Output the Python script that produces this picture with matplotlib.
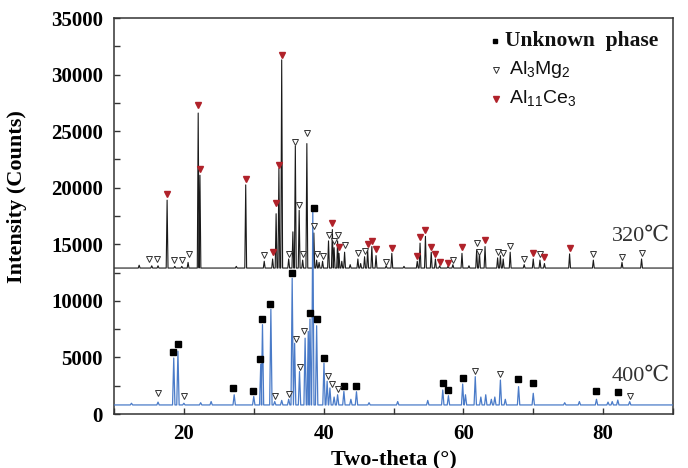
import numpy as np
import matplotlib
matplotlib.use("Agg")
import matplotlib.pyplot as plt
from matplotlib.ticker import MultipleLocator

# ---------------- data ----------------
base_320 = 12900
peaks320_tt = [13.6, 15.4, 16.3, 17.6, 18.7, 19.7, 20.6, 22.05, 22.3, 27.5, 28.85,
               31.5, 32.7, 33.2, 33.6, 34.0, 35.0, 35.6, 35.95, 36.5, 37.0, 37.6,
               38.6, 39.0, 39.35, 39.85, 40.7, 41.25, 41.5, 42.0, 42.2, 42.6, 43.0,
               43.8, 44.9, 45.3, 45.86, 46.3, 46.9, 47.5, 48.95, 49.76, 51.5, 53.4,
               53.8, 54.57, 55.4, 56.0, 56.6, 57.8, 58.5, 59.8, 60.8, 61.9, 62.3,
               63.1, 64.9, 65.3, 65.7, 66.7, 68.7, 70.0, 70.96, 71.6, 75.2, 78.6,
               82.7, 85.5]
peaks320_I = [13150, 13100, 13100, 18900, 13050, 13050, 13400, 26600, 21100, 13050, 20250,
              13500, 13700, 17700, 21700, 31300, 13700, 16100, 23700, 18000, 13600, 23900,
              16000, 13600, 13400, 13500, 15300, 16300, 14700, 15300, 14200, 13500, 14300,
              13200, 13700, 13300, 13900, 14500, 14800, 14000, 13100, 14200, 13050, 13500,
              15100, 15700, 14300, 13700, 13100, 13050, 13200, 14200, 13100, 14500, 14300,
              14800, 13800, 14000, 13700, 14300, 13200, 13700, 13600, 13300, 14150, 13600,
              13400, 13700]

base_400 = 800
peaks400_tt = [12.5, 16.3, 18.55, 19.15, 20.0, 22.4, 23.9, 27.2, 30.0, 31.0, 31.25,
               32.45, 33.0, 34.0, 35.0, 35.5, 35.85, 36.55, 37.35, 37.8, 38.05, 38.45,
               39.0, 40.05, 40.5, 40.9, 41.5, 42.0, 42.9, 43.9, 44.7, 46.5, 50.6, 54.9,
               57.05, 57.86, 59.9, 60.3, 61.7, 62.5, 63.2, 64.0, 64.5, 65.3, 66.0, 67.9,
               70.0, 74.5, 76.6, 79.05, 80.7, 81.3, 82.1, 83.8]
peaks400_I = [950, 1050, 4950, 5550, 950, 1000, 1100, 1700, 1550, 4400, 7900,
              9250, 1100, 1200, 1300, 12000, 6250, 3750, 6700, 7300, 8400, 17900,
              7800, 4500, 2900, 2300, 1500, 1700, 2000, 1300, 1970, 1000, 1100, 1200,
              2120, 1620, 2650, 1700, 3300, 1500, 1700, 1300, 1500, 3000, 1300, 2420,
              1830, 1000, 1100, 1300, 1050, 1100, 1230, 1090]

# phase markers (two-theta, intensity)
unknown_tt = [18.38, 19.19, 27.1, 29.9, 30.95, 31.14, 32.3, 35.5, 38.0, 38.6, 39.0,
              40.05, 42.86, 44.67, 57.05, 57.86, 59.9, 67.86, 70.0, 79.05, 82.1]
unknown_I = [5510, 6190, 2270, 2030, 4890, 8370, 9690, 12430, 8950, 18180, 8370,
             4980, 2470, 2470, 2710, 2120, 3210, 3090, 2770, 2030, 1920]

al3mg2_tt = [15.05, 16.2, 18.57, 19.7, 20.7, 31.5, 35.0, 35.95, 36.5, 37.05, 37.65,
             38.6, 39.0, 39.85, 40.75, 41.5, 42.05, 43.05, 44.9, 45.86, 48.95, 58.5,
             61.9, 62.3, 64.9, 65.7, 66.7, 68.7, 70.96, 78.6, 82.7, 85.5,
             16.3, 20.0, 33.0, 35.0, 36.1, 36.57, 37.14, 40.6, 41.2, 42.0, 61.7, 65.3, 83.8]
al3mg2_I = [13670, 13670, 13570, 13570, 14110, 14050, 14100, 24050, 18500, 14100, 24850,
            16600, 14150, 14000, 15850, 15250, 15820, 14900, 14200, 14400, 13470, 13650,
            15080, 14350, 14350, 14200, 14880, 13700, 14160, 14100, 13900, 14260,
            1830, 1590, 1590, 1770, 6630, 4130, 7370, 3390, 2650, 2210, 3830, 3500, 1590]

al11ce3_tt = [17.6, 22.05, 22.3, 28.85, 32.7, 33.2, 33.6, 34.0, 41.25, 42.2, 46.3,
              46.9, 47.5, 49.76, 53.4, 53.8, 54.57, 55.4, 56.0, 56.6, 57.8, 59.8,
              63.1, 70.0, 71.6, 75.2]
al11ce3_I = [19450, 27350, 21650, 20800, 14300, 18650, 22000, 31700, 16850, 14790, 15030,
             15320, 14560, 14700, 14000, 15620, 16260, 14790, 14140, 13470, 13380, 14790,
             15380, 14260, 13850, 14700]

x_range = [10, 90]
y_range = [0, 35000]
x_ticks = [20, 40, 60, 80]
y_ticks = [0, 5000, 10000, 15000, 20000, 25000, 30000, 35000]
labels_temp = ["320\u2103", "400\u2103"]
legend_labels = ["Unknown  phase", "Al$_\\mathregular{3}$Mg$_\\mathregular{2}$",
                 "Al$_\\mathregular{11}$Ce$_\\mathregular{3}$"]

# ---------------- drawing ----------------
HW = 0.13  # half width of a peak foot (degrees)


def trace(base, tts, Is, lo, hi, hw):
    xs, ys = [lo], [base]
    for t, h in sorted(zip(tts, Is)):
        xs += [t - hw, t, t + hw]
        ys += [base, h, base]
    xs.append(hi)
    ys.append(base)
    return xs, ys


serif = ["Liberation Serif", "DejaVu Serif"]
fig = plt.figure(figsize=(6.88, 4.68), dpi=100)
ax = fig.add_axes([114 / 688, 54 / 468, 559 / 688, 396 / 468])

x1, y1 = trace(base_320, peaks320_tt, peaks320_I, x_range[0], x_range[1], HW)
x2, y2 = trace(base_400, peaks400_tt, peaks400_I, x_range[0], x_range[1], HW + 0.04)
ax.plot(x1, y1, color="#1a1a1a", lw=0.8, zorder=2)
ax.plot(x2, y2, color="#4a7bc8", lw=0.9, zorder=3)

ax.plot(unknown_tt, unknown_I, ls="none", marker="s", ms=4.2, color="black", zorder=5)
ax.plot(al3mg2_tt, al3mg2_I, ls="none", marker="v", ms=4.8, mfc="white",
        mec="#333333", mew=0.7, zorder=5)
ax.plot(al11ce3_tt, al11ce3_I, ls="none", marker="v", ms=4.8, color="#b0222a", zorder=5)

ax.set_xlim(*x_range)
ax.set_ylim(*y_range)
ax.set_xticks(x_ticks)
ax.set_yticks(y_ticks)
ax.xaxis.set_minor_locator(MultipleLocator(10))
ax.yaxis.set_minor_locator(MultipleLocator(2500))
ax.tick_params(which="both", direction="in", length=4, width=1, color="#333333")
ax.tick_params(axis="x", pad=7)
ax.tick_params(axis="y", pad=8)
for lab in ax.get_xticklabels() + ax.get_yticklabels():
    lab.set_family(serif)
    lab.set_fontweight("bold")
    lab.set_fontsize(15)
for s in ax.spines.values():
    s.set_linewidth(1.1)
    s.set_color("#333333")

ax.set_xlabel("Two-theta (\u00b0)", family=serif, fontweight="bold", fontsize=16, labelpad=4)
ax.set_ylabel("Intensity (Counts)", family=serif, fontweight="bold", fontsize=16, labelpad=6)
ax.yaxis.set_label_coords(-0.155, 0.55)

ax.text(89.6, 15700, labels_temp[0], ha="right", va="center", fontsize=16,
        family=["Liberation Serif", "DejaVu Serif", "Noto Sans CJK SC"], color="#333333")
ax.text(89.6, 3350, labels_temp[1], ha="right", va="center", fontsize=16,
        family=["Liberation Serif", "DejaVu Serif", "Noto Sans CJK SC"], color="#333333")

# legend (manual)
tr = ax.transAxes
ax.plot([0.6816], [0.9427], transform=tr, marker="s", ms=3.2, color="black", ls="none", clip_on=False)
ax.plot([0.684], [0.8687], transform=tr, marker="v", ms=4.8, mfc="white", mec="#333333",
        mew=0.7, ls="none", clip_on=False)
ax.plot([0.684], [0.795], transform=tr, marker="v", ms=4.8, color="#b0222a", ls="none", clip_on=False)
ax.text(0.700, 0.9427, legend_labels[0], transform=tr, va="center", ha="left",
        family=serif, fontweight="bold", fontsize=15.5, color="#111111")
ax.text(0.706, 0.8687, legend_labels[1], transform=tr, va="center", ha="left",
        family=["Liberation Sans", "DejaVu Sans"], fontsize=14, color="#111111")
ax.text(0.706, 0.795, legend_labels[2], transform=tr, va="center", ha="left",
        family=["Liberation Sans", "DejaVu Sans"], fontsize=14, color="#111111")

fig.savefig("out.png", dpi=100)
